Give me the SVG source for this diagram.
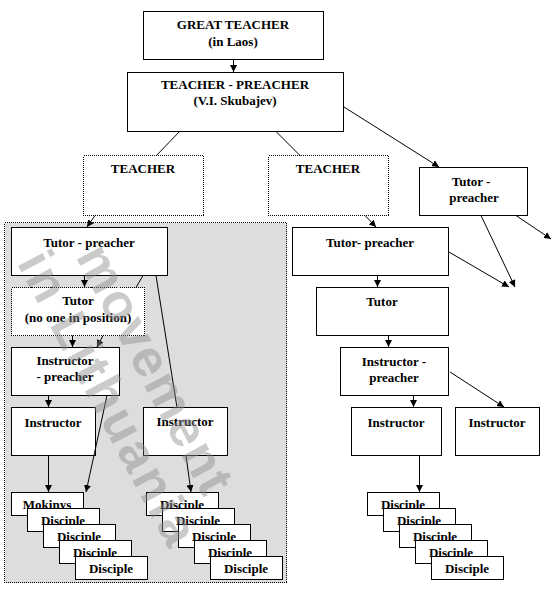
<svg xmlns="http://www.w3.org/2000/svg" width="557" height="600" viewBox="0 0 557 600">
<defs>
<style>
.box{fill:#fff;stroke:#000;stroke-width:1;shape-rendering:crispEdges}
.dot{fill:#fff;stroke:#000;stroke-width:1;stroke-dasharray:1 1;shape-rendering:crispEdges}
.t{font-family:"Liberation Serif","Times New Roman",serif;font-weight:bold;font-size:13px;text-anchor:middle;fill:#000}
.c{stroke:#000;stroke-width:1;fill:none}
.a{marker-end:url(#ah)}
.wm{font-family:"Liberation Sans",Arial,sans-serif;font-weight:bold;font-size:52px;text-anchor:middle;fill:#8c8c8c;fill-opacity:0.45}
</style>
<marker id="ah" viewBox="0 0 8 8" refX="8" refY="4" markerWidth="7" markerHeight="7" markerUnits="userSpaceOnUse" orient="auto"><path d="M0,0 L8,4 L0,8 z" fill="#000"/></marker>
</defs>
<rect width="557" height="600" fill="#fff"/>
<rect id="region" x="4.5" y="222.5" width="282" height="360" fill="#dddddd" stroke="#000" stroke-dasharray="1 1" shape-rendering="crispEdges"/>

<g id="great-teacher"><rect class="box" x="143.5" y="11.5" width="180" height="48"/><text class="t" x="233" y="29">GREAT TEACHER</text><text class="t" x="233" y="46">(in Laos)</text></g>
<g id="teacher-preacher"><rect class="box" x="127.5" y="72.5" width="216" height="59"/><text class="t" x="235" y="89">TEACHER - PREACHER</text><text class="t" x="235" y="105">(V.I. Skubajev)</text></g>
<g id="teacher-left"><rect class="dot" x="83.5" y="155.5" width="120" height="60"/><text class="t" x="143" y="173">TEACHER</text></g>
<g id="teacher-mid"><rect class="dot" x="268.5" y="155.5" width="120" height="60"/><text class="t" x="328" y="173">TEACHER</text></g>
<g id="tutor-preacher-far"><rect class="box" x="419.5" y="167.5" width="108" height="48"/><text class="t" x="471" y="186">Tutor -</text><text class="t" x="474" y="202">preacher</text></g>

<g id="tutor-preacher-left"><rect class="box" x="11.5" y="227.5" width="156" height="48"/><text class="t" x="89" y="247">Tutor - preacher</text></g>
<g id="tutor-none"><rect class="dot" x="11.5" y="287.5" width="133" height="48"/><text class="t" x="78" y="305">Tutor</text><text class="t" x="78" y="322">(no one in position)</text></g>
<g id="instr-preacher-left"><rect class="box" x="11.5" y="347.5" width="108" height="48"/><text class="t" x="65" y="365">Instructor</text><text class="t" x="65" y="381">- preacher</text></g>
<g id="instr-left"><rect class="box" x="11.5" y="407.5" width="84" height="48"/><text class="t" x="53" y="427">Instructor</text></g>
<g id="instr-mid"><rect class="box" x="143.5" y="407.5" width="84" height="48"/><text class="t" x="185" y="426">Instructor</text></g>

<g id="stack-left">
<rect class="box" x="11.5" y="492.5" width="72" height="23"/><text class="t" x="47" y="509">Mokinys</text>
<rect class="box" x="27.5" y="508.5" width="72" height="23"/><text class="t" x="63" y="525">Disciple</text>
<rect class="box" x="43.5" y="524.5" width="72" height="23"/><text class="t" x="79" y="541">Disciple</text>
<rect class="box" x="59.5" y="540.5" width="72" height="23"/><text class="t" x="95" y="557">Disciple</text>
<rect class="box" x="75.5" y="556.5" width="72" height="23"/><text class="t" x="111" y="573">Disciple</text>
</g>
<g id="stack-mid">
<rect class="box" x="146.5" y="492.5" width="72" height="23"/><text class="t" x="182" y="509">Disciple</text>
<rect class="box" x="162.5" y="508.5" width="72" height="23"/><text class="t" x="198" y="525">Disciple</text>
<rect class="box" x="178.5" y="524.5" width="72" height="23"/><text class="t" x="214" y="541">Disciple</text>
<rect class="box" x="194.5" y="540.5" width="72" height="23"/><text class="t" x="230" y="557">Disciple</text>
<rect class="box" x="210.5" y="556.5" width="72" height="23"/><text class="t" x="246" y="573">Disciple</text>
</g>

<g id="tutor-preacher-right"><rect class="box" x="292.5" y="227.5" width="156" height="48"/><text class="t" x="370" y="247">Tutor- preacher</text></g>
<g id="tutor-right"><rect class="box" x="316.5" y="287.5" width="132" height="48"/><text class="t" x="382" y="306">Tutor</text></g>
<g id="instr-preacher-right"><rect class="box" x="340.5" y="347.5" width="108" height="48"/><text class="t" x="394" y="366">Instructor -</text><text class="t" x="394" y="382">preacher</text></g>
<g id="instr-right"><rect class="box" x="351.5" y="407.5" width="90" height="48"/><text class="t" x="396" y="427">Instructor</text></g>
<g id="instr-far"><rect class="box" x="455.5" y="407.5" width="84" height="48"/><text class="t" x="497" y="427">Instructor</text></g>
<g id="stack-right">
<rect class="box" x="367.5" y="492.5" width="72" height="23"/><text class="t" x="403" y="509">Disciple</text>
<rect class="box" x="383.5" y="508.5" width="72" height="23"/><text class="t" x="419" y="525">Disciple</text>
<rect class="box" x="399.5" y="524.5" width="72" height="23"/><text class="t" x="435" y="541">Disciple</text>
<rect class="box" x="415.5" y="540.5" width="72" height="23"/><text class="t" x="451" y="557">Disciple</text>
<rect class="box" x="431.5" y="556.5" width="72" height="23"/><text class="t" x="467" y="573">Disciple</text>
</g>

<g id="connectors">
<path class="c a" d="M233.5,59.5 V72"/>
<path class="c" d="M179.6,131.5 L156.4,155.5"/>
<path class="c" d="M276,131.5 L300,155.5"/>
<path class="c a" d="M344,107 L439,167"/>
<path class="c a" d="M95,215.5 L87,227"/>
<path class="c a" d="M365,215.5 L376,227"/>
<path class="c a" d="M481,215.5 L515,287"/>
<path class="c a" d="M516,215.5 L551,239"/>
<path class="c a" d="M449,252 L509,287"/>
<path class="c a" d="M84.5,275.5 V287"/>
<path class="c" d="M143,275.5 L136,287.5"/>
<path class="c a" d="M72.5,335.5 V347"/>
<path class="c a" d="M103,335.5 L97,347"/>
<path class="c" d="M156,275.5 L177,407.5"/>
<path class="c a" d="M48.5,395.5 V407"/>
<path class="c a" d="M107,395.5 L86,492"/>
<path class="c a" d="M48.5,455.5 V492"/>
<path class="c a" d="M186,455.5 L191,492"/>
<path class="c a" d="M377.5,275.5 V287"/>
<path class="c a" d="M388.5,335.5 V347"/>
<path class="c a" d="M413.5,395.5 V407"/>
<path class="c a" d="M450,372 L504,407"/>
<path class="c a" d="M419.5,455.5 V492"/>
</g>

<g id="watermark" transform="translate(140,378) rotate(62)">
<text class="wm" x="0" y="0" letter-spacing="2">movement</text>
<text class="wm" x="4" y="55" letter-spacing="3">in Lithuania</text>
</g>
</svg>
